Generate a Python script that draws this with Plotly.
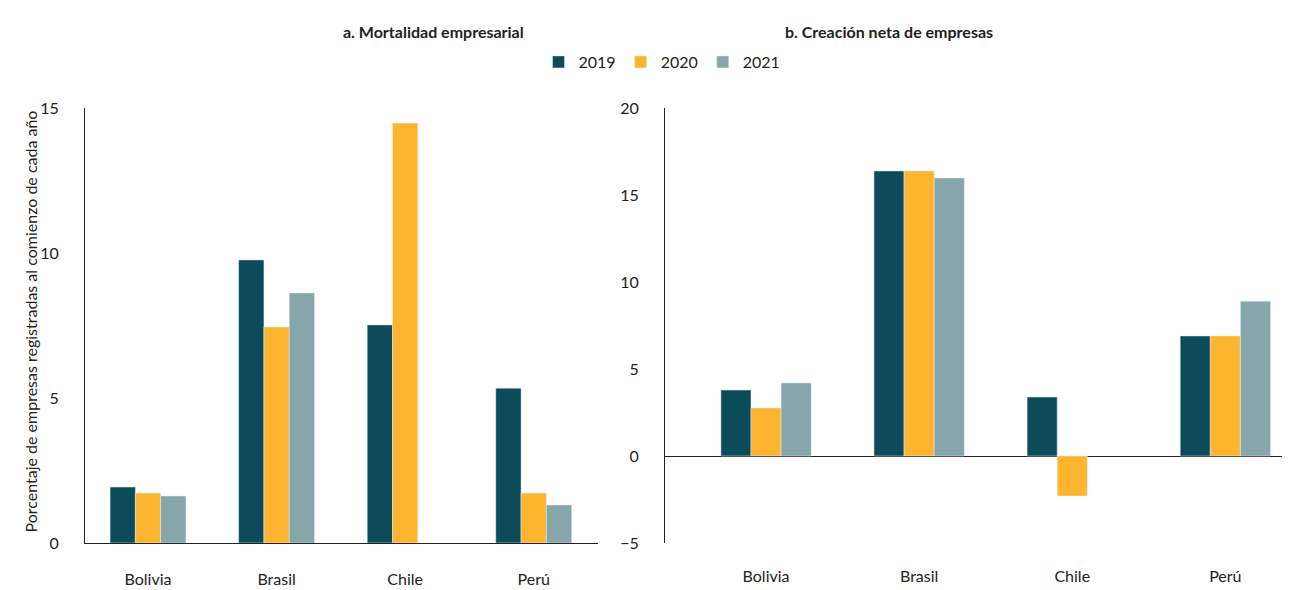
import plotly.graph_objects as go

paises = ["Bolivia", "Brasil", "Chile", "Perú"]
anios = ["2019", "2020", "2021"]
colores = ["#0b4b5a", "#fdb52f", "#87a6ac"]

mortalidad = {
    "2019": [1.93, 9.76, 7.52, 5.34],
    "2020": [1.72, 7.45, 14.48, 1.72],
    "2021": [1.62, 8.62, None, 1.31],
}
creacion = {
    "2019": [3.79, 16.38, 3.39, 6.9],
    "2020": [2.76, 16.38, -2.3, 6.9],
    "2021": [4.2, 15.98, None, 8.9],
}

fig = go.Figure()
for a, c in zip(anios, colores):
    fig.add_trace(go.Bar(x=paises, y=mortalidad[a], name=a, marker_color=c,
                         xaxis="x", yaxis="y"))
    fig.add_trace(go.Bar(x=paises, y=creacion[a], name=a, marker_color=c,
                         xaxis="x2", yaxis="y2", showlegend=False))

# page has an 8px body margin, so the figure is 1286x582 and positions are shifted
W, H = 1286, 582
def px(x):
    return (x - 8) / W
def py(y):
    return 1 - (y - 8) / H

fnt = dict(family="Lato", size=16, color="#222")
ydom = [py(543), py(108)]
fig.update_layout(
    width=W, height=H, barmode="group", bargap=0.41, bargroupgap=0,
    plot_bgcolor="white", paper_bgcolor="white", font=fnt,
    margin=dict(l=0, r=0, t=0, b=0),
    xaxis=dict(domain=[px(85), px(598)], range=[-0.49, 3.5], showline=True,
               linecolor="#222", ticks="", anchor="y", ticklabelstandoff=22,
               automargin=False),
    yaxis=dict(domain=ydom, range=[0, 15], dtick=5, showgrid=False, showline=True,
               linecolor="#222", zeroline=False, anchor="x", ticklabelstandoff=22,
               automargin=False),
    xaxis2=dict(domain=[px(665), px(1282)], range=[-0.66, 3.37], showline=False,
                ticks="", anchor="y2", ticklabelstandoff=22, automargin=False),
    yaxis2=dict(domain=ydom, range=[-5, 20], dtick=5, showgrid=False, showline=True,
                linecolor="#222", zeroline=True, zerolinecolor="#222",
                zerolinewidth=1, anchor="x2", ticklabelstandoff=22, automargin=False),
    legend=dict(orientation="h", x=px(662), xanchor="center", y=py(62),
                yanchor="middle", font=dict(size=16), traceorder="normal"),
    annotations=[
        dict(text="<b>a. Mortalidad empresarial</b>", x=px(341), y=py(20),
             xref="paper", yref="paper", showarrow=False, font=dict(size=16)),
        dict(text="<b>b. Creación neta de empresas</b>", x=px(995), y=py(20),
             xref="paper", yref="paper", showarrow=False, font=dict(size=16)),
        dict(text="Porcentaje de empresas registradas al comienzo de cada año",
             textangle=-90, x=px(18), y=py(322), xref="paper", yref="paper",
             showarrow=False, font=dict(size=16)),
    ],
)
fig.write_html("out.html")
